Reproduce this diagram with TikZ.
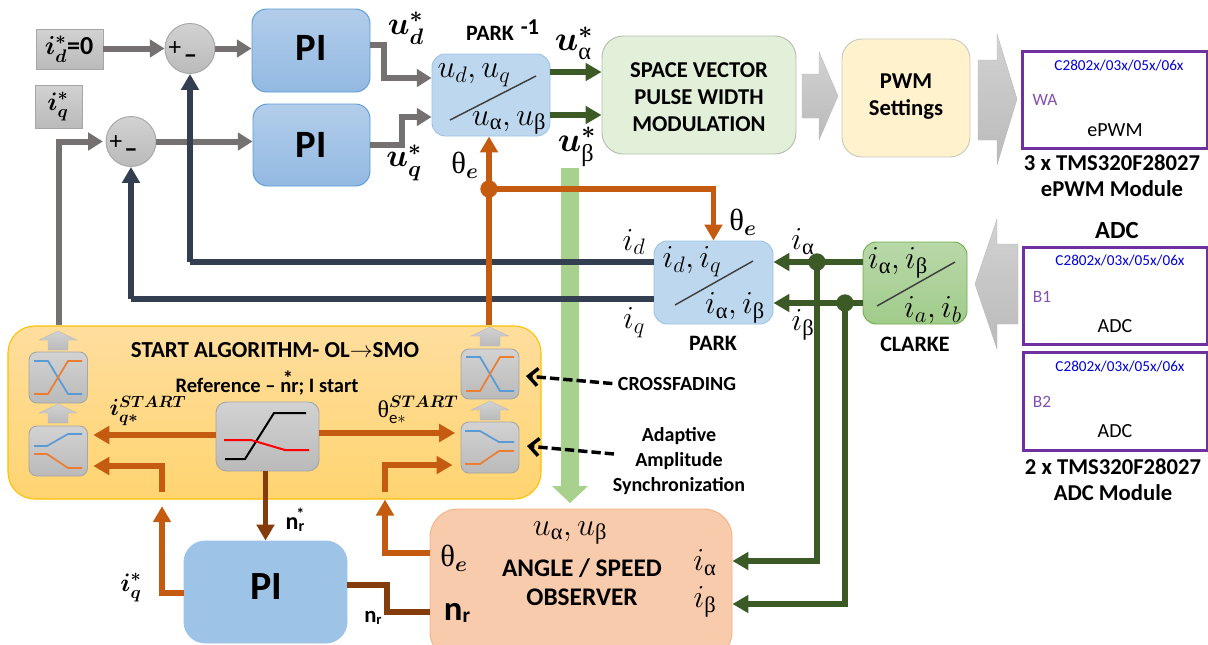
\RequirePackage{fix-cm}
\documentclass[tikz,border=0pt]{standalone}
\usepackage{amsmath}
\usepackage{fontspec}
\setmainfont{Carlito}
\newfontfamily\libf{Liberation Serif}
\usetikzlibrary{arrows.meta,calc}
\newcommand{\upA}{\text{\libf\mdseries α}}
\newcommand{\upB}{\text{\libf\mdseries β}}
\newcommand{\upT}{\text{\libf\mdseries θ}}
\newcommand{\fs}[1]{\fontsize{#1}{#1}\selectfont}
\definecolor{cgray}{HTML}{767171}
\definecolor{cnavy}{HTML}{333F50}
\definecolor{corange}{HTML}{C55A11}
\definecolor{cgreen}{HTML}{3B5A25}
\definecolor{cbrown}{HTML}{843C0C}
\definecolor{cpurple}{HTML}{7030A0}
\definecolor{pitop}{HTML}{B2CDEA}
\definecolor{pibot}{HTML}{93B9E2}
\definecolor{piedge}{HTML}{5B9BD5}
\definecolor{parkfill}{HTML}{BDD7EE}
\definecolor{parkedge}{HTML}{9DC3E6}
\definecolor{clarketop}{HTML}{B9D8A9}
\definecolor{clarkebot}{HTML}{A0CC8B}
\definecolor{clarkeedge}{HTML}{70AD47}
\definecolor{graytop}{HTML}{D2D2D2}
\definecolor{graybot}{HTML}{BABABA}
\definecolor{grayedge}{HTML}{A6A6A6}
\definecolor{crb}{HTML}{5B9BD5}
\definecolor{cro}{HTML}{ED7D31}
\definecolor{barg}{HTML}{A9D18E}
\definecolor{svfill}{HTML}{E2F0D9}
\definecolor{svedge}{HTML}{B4BEAE}
\definecolor{pwfill}{HTML}{FFF2CC}
\definecolor{pwedge}{HTML}{C8C8BE}
\definecolor{sttop}{HTML}{FFDE9E}
\definecolor{stbot}{HTML}{FFD470}
\definecolor{stedge}{HTML}{FFC000}
\definecolor{pi3fill}{HTML}{9DC3E6}
\definecolor{obfill}{HTML}{F8CBAD}
\definecolor{obedge}{HTML}{F4B183}
\newcommand{\bx}[6]{%
 \pgfmathsetmacro\bw{(#5-#3)*.75}\pgfmathsetmacro\bh{(#6-#4)*.75}%
 \node[#1,minimum width=\bw pt,minimum height=\bh pt,inner sep=0pt] (#2) at ({(#3+#5)/2},{(#4+#6)/2}) {};}
\newcommand{\upar}[2]{%
 \path[blockgray] (#1,#2) -- ({#1+19},{#2+9}) -- ({#1+10},{#2+9}) -- ({#1+10},{#2+19}) -- ({#1-10},{#2+19}) -- ({#1-10},{#2+9}) -- ({#1-19},{#2+9}) -- cycle;}
\tikzset{
 conn/.style={line width=#1,line join=miter,line cap=butt},
 gline/.style={conn=4.5pt,color=cgray,-{Triangle[width=13pt,length=11pt]}},
 nline/.style={conn=4.2pt,color=cnavy,-{Triangle[width=13pt,length=12pt]}},
 oline/.style={conn=4pt,color=corange,-{Triangle[width=13pt,length=12pt]}},
 bline/.style={conn=4pt,color=cbrown,-{Triangle[width=13pt,length=12pt]}},
 bplain/.style={conn=4pt,color=cbrown},
 vline/.style={conn=4.4pt,color=cgreen,-{Triangle[width=13pt,length=12pt]}},
 dashar/.style={line width=2.6pt,dash pattern=on 7pt off 3pt,-{Straight Barb[length=7pt,width=13pt,line width=2.6pt]}},
 pibox/.style={draw=piedge,rounded corners=11pt,top color=pitop,bottom color=pibot,line width=.7pt},
 parkbox/.style={draw=parkedge,fill=parkfill,rounded corners=10pt,line width=.7pt},
 clarkebox/.style={draw=clarkeedge,top color=clarketop,bottom color=clarkebot,rounded corners=10pt,line width=.7pt},
 grayb/.style={draw=grayedge,top color=graytop,bottom color=graybot,line width=.7pt},
 crossb/.style={grayb,rounded corners=6pt},
 sumc/.style={circle,grayb,inner sep=0pt},
 blockgray/.style={top color=graytop,bottom color=graybot,draw=graybot,line width=.3pt},
 pbox/.style={draw=cpurple,line width=2.25pt,fill=white},
 dot/.style={circle,fill=#1,inner sep=0pt,minimum size=13pt},
 txt/.style={inner sep=0pt,align=center},
 tb/.style={txt,font=\fs{#1}\bfseries},
 tm/.style={txt,font=\fs{#1}},
 bluec/.style={txt,font=\fs{11.4},text=blue!85!black},
 purc/.style={txt,font=\fs{13},text=cpurple!85!white},
 slash/.style={draw=black!75,line width=1.1pt},
}
\begin{document}
\begin{tikzpicture}[x=0.75pt,y=-0.75pt]
\path[use as bounding box,clip] (0,0) rectangle (1208,644);
% green feed bar
\path[fill=barg] (561,168) -- (579,168) -- (579,486) -- (588,486) -- (570,503) -- (552,486) -- (561,486) -- cycle;
% boxes
\bx{grayb}{idr}{36}{29}{103}{69}
\bx{grayb}{iqr}{35}{85}{82}{128}
\bx{sumc}{sumd}{165}{24}{215}{73}
\bx{sumc}{sumq}{106}{117}{156}{166}
\bx{pibox}{pid}{252}{9}{370}{92}
\bx{pibox}{piq}{253}{104}{370}{186}
\bx{parkbox}{pinv}{432}{54}{550}{136}
\bx{draw=svedge,fill=svfill,rounded corners=16pt,line width=.7pt}{sv}{602}{36}{796}{154}
\bx{draw=pwedge,fill=pwfill,rounded corners=15pt,line width=.7pt}{pw}{842}{39}{970}{157}
\bx{parkbox}{park}{654}{241}{773}{324}
\bx{clarkebox}{clarke}{863}{242}{967}{324}
\bx{draw=stedge,top color=sttop,bottom color=stbot,rounded corners=20pt,line width=.8pt}{st}{8}{326}{541}{499}
\bx{crossb}{cl}{29}{352}{87.5}{403}
\bx{crossb}{fl}{29}{426}{87.5}{476}
\bx{crossb}{cr}{461}{349}{519}{399}
\bx{crossb}{fr}{461}{422}{519}{473}
\bx{grayb,rounded corners=8pt}{cb}{216}{402}{319}{471}
\bx{draw=parkedge,fill=pi3fill,rounded corners=16pt,line width=.7pt}{pi3}{184}{541}{347}{643}
\bx{draw=obedge,fill=obfill,rounded corners=21pt,line width=.7pt}{obs}{430}{509}{732}{660}
\bx{pbox}{m1}{1022}{51}{1207}{148}
\bx{pbox}{m2}{1023}{247}{1207}{344}
\bx{pbox}{m3}{1023}{352}{1207}{450}
% block arrows
\path[blockgray] (802,74) -- (819,74) -- (819,52) -- (838,96) -- (819,140) -- (819,118) -- (802,118) -- cycle;
\path[blockgray] (978,60) -- (997,60) -- (997,34) -- (1017,99) -- (997,165) -- (997,140) -- (978,140) -- cycle;
\path[blockgray] (1018,244) -- (997,244) -- (997,219) -- (975,284) -- (997,349) -- (997,324) -- (1018,324) -- cycle;
\upar{58}{331}\upar{58}{404}\upar{490}{327}\upar{490}{401}
% curves
\draw[crb,line width=1.3pt] (34,361) -- (48,361) -- (68,394) -- (82,394);
\draw[cro,line width=1.3pt] (34,394) -- (48,394) -- (68,361) -- (82,361);
\draw[crb,line width=1.3pt] (34,446) -- (47,446) -- (68,434) -- (82,434);
\draw[cro,line width=1.3pt] (34,454) -- (47,454) -- (68,468) -- (82,468);
\draw[crb,line width=1.3pt] (466,357) -- (480,357) -- (500,391) -- (514,391);
\draw[cro,line width=1.3pt] (466,391) -- (480,391) -- (500,357) -- (514,357);
\draw[crb,line width=1.3pt] (465,431) -- (480,431) -- (499,442) -- (514,442);
\draw[cro,line width=1.3pt] (465,464) -- (480,464) -- (499,451) -- (514,451);
\draw[black,line width=1.5pt] (225,459) -- (245,459) -- (274,413) -- (306,413);
\draw[red,line width=1.5pt] (224,440) -- (251,440) -- (285,450) -- (309,450);
% slashes
\draw[slash] (536,76) -- (450,120);
\draw[slash] (753,261) -- (675,305);
\draw[slash] (955,262) -- (877,306);
% connectors gray
\draw[gline] (idr.east |- sumd) -- (sumd.west);
\draw[gline] (sumd.east) -- (pid.west |- sumd);
\draw[gline] (sumq.east) -- (piq.west |- sumq);
\draw[gline,shorten >=2pt] (st.north -| 59,0) |- (sumq.west);
\draw[gline] (pid.east |- 0,45) -| (384,78) -- (pinv.west |- 0,78);
\draw[gline] (piq.east |- 0,145) -| (402,117) -- (pinv.west |- 0,117);
% navy
\draw[cnavy,conn=4.2pt] (park.west |- 0,262) -- (190,262) coordinate (nv1);
\draw[nline] (nv1) -- (nv1 |- sumd.south);
\draw[cnavy,conn=4.2pt] (park.west |- 0,299) -- (131,299) coordinate (nv2);
\draw[nline] (nv2) -- (nv2 |- sumq.south);
% green
\draw[vline] (pinv.east |- 0,72) -- (sv.west |- 0,72);
\draw[vline] (pinv.east |- 0,115) -- (sv.west |- 0,115);
\node[dot=cgreen] (gd1) at (817,262) {};
\node[dot=cgreen] (gd2) at (845,303) {};
\draw[vline] (clarke.west |- gd1) -- (park.east |- gd1);
\draw[vline] (clarke.west |- gd2) -- (park.east |- gd2);
\draw[vline] (gd1.center) |- (obs.east |- 0,561);
\draw[vline] (gd2.center) |- (obs.east |- 0,604);
% orange
\node[dot=corange] (od) at (489,189) {};
\draw[oline] (st.north -| od) -- (pinv.south -| od);
\draw[oline] (od.center) -| (park.north);
\draw[oline,shorten >=4pt] (cb.west |- 0,435) -- (fl.east |- 0,435);
\draw[oline,shorten >=4pt] (cb.east |- 0,433) -- (fr.west |- 0,433);
\coordinate (ls) at (162,492);
\coordinate (rs) at (385,492);
\draw[oline,shorten >=4pt] (ls) |- (fl.east |- 0,466);
\draw[oline,shorten >=6pt] (rs) |- (fr.west |- 0,465);
\draw[oline,shorten >=5pt] (pi3.west |- 0,593) -| (st.south -| ls);
\draw[oline] (obs.west |- 0,553) -| (st.south -| rs);
% brown
\draw[bline] (cb.south -| pi3.north) -- (pi3.north);
\draw[bplain] (pi3.east |- 0,585) -| (387,612) -- (obs.west |- 0,612);
% dashed pointers
\node[tb=15] (tcf) at (677,384) {CROSSFADING};
\node[tb=15] (tad) at (679,461) {Adaptive\\[3.4pt]Amplitude\\[3.4pt]Synchronization};
\draw[dashar,shorten <=4pt] (tcf.west) -- (526,376);
\draw[dashar] (614,454) -- (527,446);
% texts
\node[tb=19.5] (t1) at (69,49) {$\boldsymbol{i_d^*}$=0};
\node[tb=19] (t2) at (58,107) {$\boldsymbol{i_q^*}$};
\node[tm=19] (p1) at (175,49) {+};
\node[tb=20] (p2) at (190.5,59) {–};
\node[tm=19] (p3) at (116,143) {+};
\node[tb=20] (p4) at (131,153) {–};
\node[tb=29] (tp1) at (311,48) {PI};
\node[tb=29] (tp2) at (311,145) {PI};
\node[tb=30] (tp3) at (266,587) {PI};
\node[tm=24] (ud) at (406,28) {$\boldsymbol{u_d^*}$};
\node[tm=24] (uq) at (404,163) {$\boldsymbol{u_q^*}$};
\node[tm=26] (ua) at (574,43) {$\boldsymbol{u}_{\upA}^{\boldsymbol{*}}$};
\node[tm=26] (ub) at (577,147) {$\boldsymbol{u}_{\upB}^{\boldsymbol{*}}$};
\node[tb=16.5] (tpi) at (490,33) {PARK};
\node[tb=17] (tpm) at (530,27) {-1};
\node[tm=24] (pi1) at (474,75) {$u_d,u_q$};
\node[tm=24] (pi2) at (509,123) {$u_{\upA},u_{\upB}$};
\node[tm=23] (te1) at (465,165) {$\upT_{\boldsymbol{e}}$};
\node[tm=24] (pa1) at (692,262) {$i_d,i_q$};
\node[tm=24] (pa2) at (735,308) {$i_{\upA},i_{\upB}$};
\node[tb=16.5] (tpk) at (713,343) {PARK};
\node[tm=23] (te2) at (743,222) {$\upT_{\boldsymbol{e}}$};
\node[tm=24] (id) at (634,242) {$i_d$};
\node[tm=24] (iq) at (634,323) {$i_q$};
\node[tm=24] (ia) at (803,242) {$i_{\upA}$};
\node[tm=24] (ib) at (803,325) {$i_{\upB}$};
\node[tm=24] (cl1) at (898,263) {$i_{\upA},i_{\upB}$};
\node[tm=24] (cl2) at (933,310) {$i_a,i_b$};
\node[tb=16.5] (tcl) at (915,344) {CLARKE};
\node[tb=17] (tsv) at (699,97) {SPACE VECTOR\\[3.2pt]PULSE WIDTH\\[3.2pt]MODULATION};
\node[tb=17] (tpw) at (906,97) {PWM\\[3.2pt]Settings};
\node[tb=17.2] (tsa) at (275,350) {START ALGORITHM- OL$\rightarrow$SMO};
\node[tb=15.4] (tre) at (267,383) {Reference -- \makebox[0pt][l]{\hspace{.12em}\raisebox{.36em}{*}}nr; I start};
\node[tm=17.5] (ist) at (148,411) {$\boldsymbol{i_{q*}^{START}}$};
\node[tm=18] (tst) at (418,410) {$\upT_{\mathrm{e}*}^{\boldsymbol{START}}$};
\node[tb=18] (tnr) at (295,520) {n{\fs{12}\raisebox{-2pt}{r}\llap{\raisebox{7pt}{*}}}};
\node[tm=19] (iqs) at (131,588) {$\boldsymbol{i_q^*}$};
\node[tb=17] (tn2) at (373,618) {n{\fs{11}\raisebox{-1.5pt}{r}}};
\node[tm=24] (ob1) at (570,533) {$u_{\upA},u_{\upB}$};
\node[tb=19] (ob2) at (582,568) {ANGLE / SPEED};
\node[tb=19] (ob3) at (582,597) {OBSERVER};
\node[tm=23] (ob4) at (454,558) {$\upT_{\boldsymbol{e}}$};
\node[tb=26] (ob5) at (457,613) {n{\fs{16}\raisebox{-2pt}{r}}};
\node[tm=24] (ob6) at (705,563) {$i_{\upA}$};
\node[tm=24] (ob7) at (705,602) {$i_{\upB}$};
% modules
\node[bluec] (c1) at (1119,66) {C2802x/03x/05x/06x};
\node[purc] (w1) at (1045,100) {WA};
\node[tm=15] (w2) at (1115,130) {ePWM};
\node[tb=17] (w3) at (1112,163) {3 x TMS320F28027};
\node[tb=17] (w4) at (1112,189) {ePWM Module};
\node[tb=18.5] (w5) at (1117,230) {ADC};
\node[bluec] (c2) at (1120,261) {C2802x/03x/05x/06x};
\node[purc] (b1) at (1042,297) {B1};
\node[tm=15] (a1) at (1115,326) {ADC};
\node[bluec] (c3) at (1120,367) {C2802x/03x/05x/06x};
\node[purc] (b2) at (1042,402) {B2};
\node[tm=15] (a2) at (1115,431) {ADC};
\node[tb=17] (w6) at (1113,467) {2 x TMS320F28027};
\node[tb=17] (w7) at (1113,493) {ADC Module};
\end{tikzpicture}
\end{document}
